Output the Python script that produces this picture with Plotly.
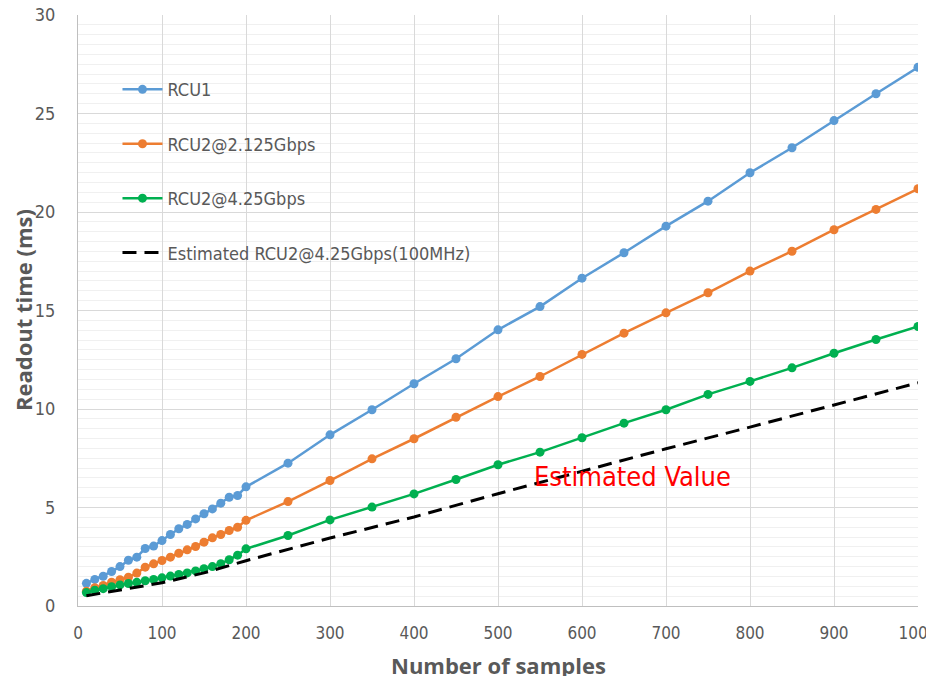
import plotly.graph_objects as go

samples = [10, 20, 30, 40, 50, 60, 70, 80, 90, 100, 110, 120, 130, 140, 150, 160, 170, 180, 190, 200,
           250, 300, 350, 400, 450, 500, 550, 600, 650, 700, 750, 800, 850, 900, 950, 1000]

rcu1 = [1.15, 1.35, 1.51, 1.75, 2.0, 2.32, 2.48, 2.92, 3.04, 3.32, 3.63, 3.92, 4.14, 4.42, 4.68, 4.93, 5.22, 5.52, 5.61, 6.05,
        7.25, 8.69, 9.96, 11.28, 12.55, 14.02, 15.2, 16.64, 17.93, 19.28, 20.55, 21.99, 23.26, 24.64, 26.0, 27.35]

rcu2_2125 = [0.75, 0.93, 1.04, 1.21, 1.33, 1.46, 1.67, 1.97, 2.14, 2.31, 2.48, 2.68, 2.85, 3.02, 3.24, 3.46, 3.63, 3.83, 4.0, 4.35,
             5.30, 6.37, 7.47, 8.49, 9.58, 10.63, 11.65, 12.77, 13.85, 14.88, 15.90, 17.0, 18.01, 19.10, 20.13, 21.18]

rcu2_425 = [0.68, 0.80, 0.88, 0.98, 1.07, 1.14, 1.20, 1.28, 1.35, 1.43, 1.52, 1.60, 1.68, 1.78, 1.89, 2.00, 2.15, 2.35, 2.58, 2.90,
            3.58, 4.37, 5.02, 5.69, 6.42, 7.17, 7.81, 8.54, 9.28, 9.96, 10.74, 11.40, 12.09, 12.83, 13.53, 14.19]

est_samples = [10, 100, 150, 200, 300, 400, 500, 600, 700, 800, 900, 1000]
est_425_100mhz = [0.52, 1.18, 1.68, 2.3, 3.45, 4.52, 5.7, 6.85, 7.98, 9.08, 10.2, 11.33]

series_names = ["RCU1", "RCU2@2.125Gbps", "RCU2@4.25Gbps", "Estimated RCU2@4.25Gbps(100MHz)"]
x_ticks = [0, 100, 200, 300, 400, 500, 600, 700, 800, 900, 1000]
y_ticks = [0, 5, 10, 15, 20, 25, 30]

FONT = "Liberation Sans Narrow, DejaVu Sans Condensed, Arial Narrow, sans-serif"
GREY = "#595959"

fig = go.Figure()
colors = ["#5B9BD5", "#ED7D31", "#00B050"]
for name, vals, col in zip(series_names[:3], [rcu1, rcu2_2125, rcu2_425], colors):
    fig.add_trace(go.Scatter(
        x=samples, y=vals, name=name, mode="lines+markers",
        line=dict(color=col, width=2.5),
        marker=dict(color=col, size=9, symbol="circle"),
        legendgroup=name,
    ))
fig.add_trace(go.Scatter(
    x=est_samples, y=est_425_100mhz, name=series_names[3], mode="lines",
    line=dict(color="black", width=3, dash="14px,8px"),
    legendgroup=series_names[3],
))

fig.add_annotation(
    x=540, y=6.55, xref="x", yref="y", text="Estimated Value", showarrow=False,
    xanchor="left", yanchor="middle",
    font=dict(family=FONT, size=27, color="#FF0000"),
)
fig.add_annotation(
    x=-0.06, y=0.5, xref="paper", yref="paper", text="<b>Readout time (ms)</b>",
    showarrow=False, textangle=-90, xanchor="center", yanchor="middle",
    xshift=-5,
    font=dict(family="Open Sans, Liberation Sans, sans-serif", size=22, color=GREY),
)
fig.add_annotation(
    x=0.5, y=0, xref="paper", yref="paper", text="<b>Number of samples</b>",
    showarrow=False, xanchor="center", yanchor="top", yshift=-42,
    font=dict(family="Open Sans, Liberation Sans, sans-serif", size=22, color=GREY),
)

fig.update_layout(
    width=926, height=676,
    margin=dict(l=78, r=8, t=15, b=70),
    paper_bgcolor="white", plot_bgcolor="white",
    showlegend=True,
    legend=dict(
        x=0.047, y=0.905, xanchor="left", yanchor="top",
        bgcolor="rgba(0,0,0,0)",
        font=dict(family=FONT, size=18, color=GREY),
        traceorder="grouped", tracegroupgap=28,
        itemwidth=40,
    ),
    font=dict(family=FONT, color=GREY),
)
fig.update_xaxes(
    range=[0, 1000], tickmode="array", tickvals=x_ticks, ticktext=[str(v) for v in x_ticks],
    showgrid=True, gridcolor="#D9D9D9", gridwidth=1,
    showline=True, linecolor="#BFBFBF", linewidth=1, mirror=False,
    zeroline=False, ticks="", automargin=False,
    tickfont=dict(family=FONT, size=17, color=GREY), ticklabelstandoff=12,
    ticklabeloverflow="allow",
)
fig.update_yaxes(
    range=[0, 30], tickmode="array", tickvals=y_ticks, ticktext=[str(v) for v in y_ticks],
    showgrid=True, gridcolor="#D9D9D9", gridwidth=1,
    minor=dict(dtick=0.5, showgrid=True, gridcolor="#F0F0F0", gridwidth=1),
    showline=True, linecolor="#BFBFBF", linewidth=1,
    zeroline=False, ticks="", automargin=False,
    tickfont=dict(family=FONT, size=18, color=GREY), ticklabelstandoff=18,
)

fig.write_html("out.html")
